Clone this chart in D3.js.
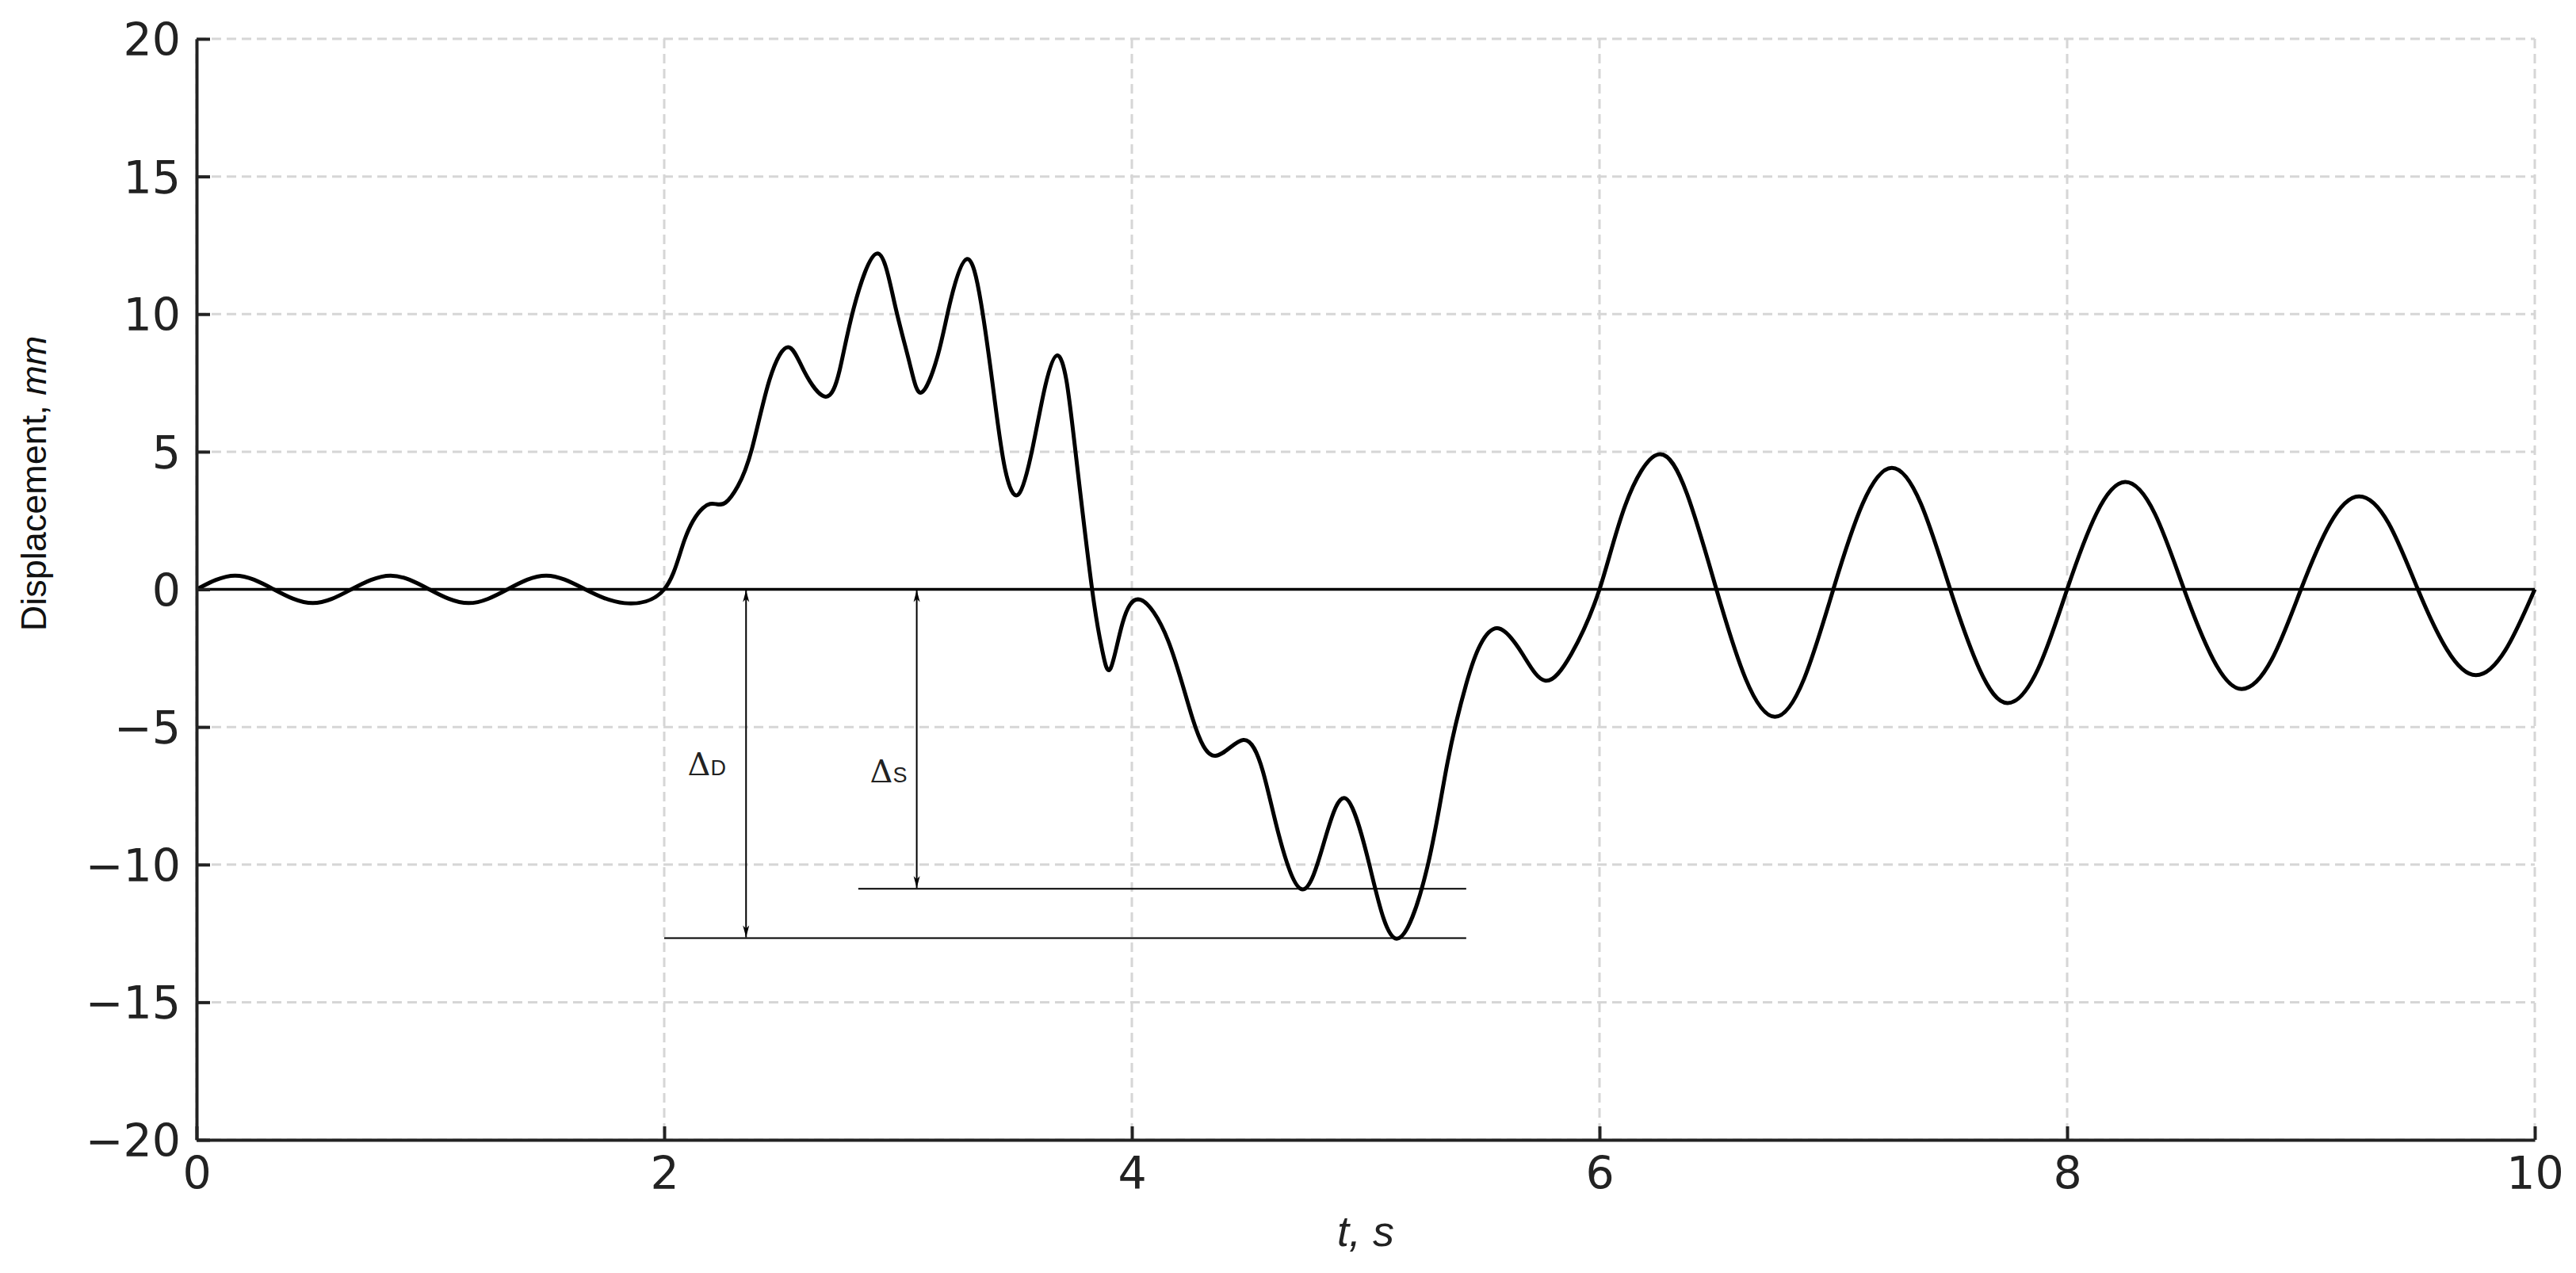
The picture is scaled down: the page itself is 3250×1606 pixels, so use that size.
<!DOCTYPE html>
<html>
<head>
<meta charset="utf-8">
<script src="https://cdn.jsdelivr.net/npm/d3@7"></script>
<style>
  body { margin: 0; background: #fff; }
  svg { display: block; }
</style>
</head>
<body>
<div id="chart"></div>
<script>
// time (s) and displacement (mm)
const time = [
  0.000, 0.165, 0.330, 0.497, 0.662, 0.830, 0.995, 1.163, 1.330, 1.496, 1.662, 1.830,
  2.000, 2.087, 2.165, 2.220, 2.262, 2.315, 2.375, 2.450, 2.530, 2.600, 2.690, 2.750,
  2.810, 2.910, 2.985, 3.050, 3.100, 3.170, 3.225, 3.295, 3.355, 3.410, 3.457, 3.515,
  3.577, 3.630, 3.680, 3.720, 3.759, 3.830, 3.873, 3.908, 3.960, 4.037, 4.155, 4.260,
  4.357, 4.477, 4.560, 4.630, 4.729, 4.824, 4.915, 5.018, 5.132, 5.264, 5.350, 5.430,
  5.490, 5.569, 5.670, 5.769, 5.880, 6.000, 6.110, 6.250, 6.375, 6.500, 6.625, 6.750,
  6.875, 7.000, 7.125, 7.250, 7.375, 7.500, 7.625, 7.745, 7.875, 8.000, 8.125, 8.248,
  8.375, 8.500, 8.625, 8.746, 8.875, 9.000, 9.125, 9.248, 9.375, 9.500, 9.625, 9.748,
  9.875, 10.000
];
const displacement = [
  0, 0.5, 0, -0.5, 0, 0.5, 0, -0.5, 0, 0.5, 0, -0.5,
  0, 1.8, 2.95, 3.1, 3.15, 3.75, 5.1, 7.6, 8.8, 7.9, 7.0, 7.95,
  10.2, 12.2, 10.4, 8.2, 7.15, 8.5, 10.5, 12.0, 10.4, 7.1, 4.4, 3.45,
  5.2, 7.4, 8.5, 7.6, 5.0, 0, -2.2, -2.89, -1.23, -0.38, -1.86, -4.7,
  -6.05, -5.47, -6.6, -8.97, -10.9, -9.13, -7.6, -10.08, -12.69, -10.08, -6.29, -3.44,
  -2.02, -1.42, -2.34, -3.32, -2.34, 0, 3.05, 4.9, 3.45, 0, -3.25, -4.63,
  -3.25, 0, 3.1, 4.41, 3.1, 0, -2.9, -4.13, -2.9, 0, 2.75, 3.9,
  2.75, 0, -2.55, -3.62, -2.55, 0, 2.4, 3.38, 2.4, 0, -2.2, -3.12,
  -2.2, 0
];

const xTicks = [0, 2, 4, 6, 8, 10];
const yTicks = [-20, -15, -10, -5, 0, 5, 10, 15, 20];

// Δ annotations: level reached, where the arrow stands, extent of the level line, label spot
const deltaNames = ["D", "S"];
const deltaLevels = [-12.67, -10.88];
const deltaArrowT = [2.35, 3.08];
const deltaLineFrom = [2.0, 2.83];
const deltaLineTo = [5.43, 5.43];
const deltaLabelT = [2.1, 2.88];
const deltaLabelY = [-6.75, -7.0];

const W = 3250, H = 1606;
const margin = {top: 49, right: 52, bottom: 168, left: 248},
    width = W - margin.left - margin.right,
    height = H - margin.top - margin.bottom;

const x = d3.scaleLinear().domain([0, 10]).range([0, width]);
const y = d3.scaleLinear().domain([-20, 20]).range([height, 0]);

const root = d3.select("#chart").append("svg")
    .attr("width", W)
    .attr("height", H)
    .style("background", "#fff");

const defs = root.append("defs");
defs.append("marker")
    .attr("id", "arrow")
    .attr("markerUnits", "userSpaceOnUse")
    .attr("viewBox", "-16 -6 18 12")
    .attr("refX", 0).attr("refY", 0)
    .attr("markerWidth", 18).attr("markerHeight", 12)
    .attr("orient", "auto-start-reverse")
  .append("path")
    .attr("d", "M0,0 L-15,-4 L-11,0 L-15,4 Z")
    .attr("fill", "#000");

const svg = root.append("g")
    .attr("transform", "translate(" + margin.left + "," + margin.top + ")");

// grid
svg.append("g").selectAll("line")
    .data(xTicks)
  .join("line")
    .attr("x1", d => x(d)).attr("x2", d => x(d))
    .attr("y1", 0).attr("y2", height)
    .attr("stroke", "#d6d6d6")
    .attr("stroke-width", 3)
    .attr("stroke-dasharray", "12,7");

svg.append("g").selectAll("line")
    .data(yTicks)
  .join("line")
    .attr("x1", 0).attr("x2", width)
    .attr("y1", d => y(d)).attr("y2", d => y(d))
    .attr("stroke", "#d6d6d6")
    .attr("stroke-width", 3)
    .attr("stroke-dasharray", "12,7");

// zero line
svg.append("line")
    .attr("x1", x(0)).attr("x2", x(10))
    .attr("y1", y(0)).attr("y2", y(0))
    .attr("stroke", "#000")
    .attr("stroke-width", 3.5);

// Δ annotations
const ann = svg.append("g");
deltaNames.forEach((name, i) => {
    ann.append("line")
        .attr("x1", x(deltaLineFrom[i])).attr("x2", x(deltaLineTo[i]))
        .attr("y1", y(deltaLevels[i])).attr("y2", y(deltaLevels[i]))
        .attr("stroke", "#000")
        .attr("stroke-width", 2);

    ann.append("line")
        .attr("x1", x(deltaArrowT[i])).attr("x2", x(deltaArrowT[i]))
        .attr("y1", y(0) + 1).attr("y2", y(deltaLevels[i]) - 1)
        .attr("stroke", "#000")
        .attr("stroke-width", 2)
        .attr("marker-start", "url(#arrow)")
        .attr("marker-end", "url(#arrow)");

    const t = ann.append("text")
        .attr("x", x(deltaLabelT[i]))
        .attr("y", y(deltaLabelY[i]))
        .attr("font-family", "'DejaVu Serif', 'Liberation Serif', serif")
        .attr("font-size", 40)
        .attr("fill", "#222");
    t.append("tspan").text("Δ");
    t.append("tspan")
        .attr("font-family", "'Liberation Sans', Arial, sans-serif")
        .attr("font-size", 27)
        .text(name);
});

// curve
const pts = time.map((t, i) => [t, displacement[i]]);
const line = d3.line()
    .x(d => x(d[0]))
    .y(d => y(d[1]))
    .curve(d3.curveNatural);

svg.append("path")
    .datum(pts)
    .attr("fill", "none")
    .attr("stroke", "#000")
    .attr("stroke-width", 5)
    .attr("stroke-linejoin", "round")
    .attr("d", line);

// axes
const xAxis = d3.axisBottom(x)
    .tickValues(xTicks)
    .tickSizeInner(-17)
    .tickSizeOuter(0)
    .tickPadding(19)
    .tickFormat(d3.format("d"));

const yAxis = d3.axisLeft(y)
    .tickValues(yTicks)
    .tickSizeInner(-17)
    .tickSizeOuter(0)
    .tickPadding(20)
    .tickFormat(d3.format("d"));

const gx = svg.append("g")
    .attr("transform", "translate(0," + height + ")")
    .call(xAxis);
const gy = svg.append("g").call(yAxis);

[gx, gy].forEach(g => {
    g.select(".domain").attr("stroke", "#222").attr("stroke-width", 4);
    g.selectAll(".tick line").attr("stroke", "#222").attr("stroke-width", 4);
    g.selectAll(".tick text")
        .attr("fill", "#222")
        .attr("font-family", "'DejaVu Sans', sans-serif")
        .attr("font-size", 57);
});
gx.selectAll(".tick text").attr("dy", "0.76em");
gy.selectAll(".tick text").attr("dy", "0.36em");

// axis labels
svg.append("text")
    .attr("transform", "translate(" + (58 - margin.left) + "," + (610 - margin.top) + ") rotate(-90)")
    .attr("text-anchor", "middle")
    .attr("font-family", "'Liberation Sans', Arial, sans-serif")
    .attr("font-size", 45)
    .attr("fill", "#111")
    .call(t => {
        t.append("tspan").text("Displacement, ");
        t.append("tspan").attr("font-style", "italic").text("mm");
    });

svg.append("text")
    .attr("x", width / 2)
    .attr("y", height + 134)
    .attr("text-anchor", "middle")
    .attr("font-family", "'Liberation Sans', Arial, sans-serif")
    .attr("font-style", "italic")
    .attr("font-size", 54)
    .attr("fill", "#222")
    .text("t, s");
</script>
</body>
</html>
